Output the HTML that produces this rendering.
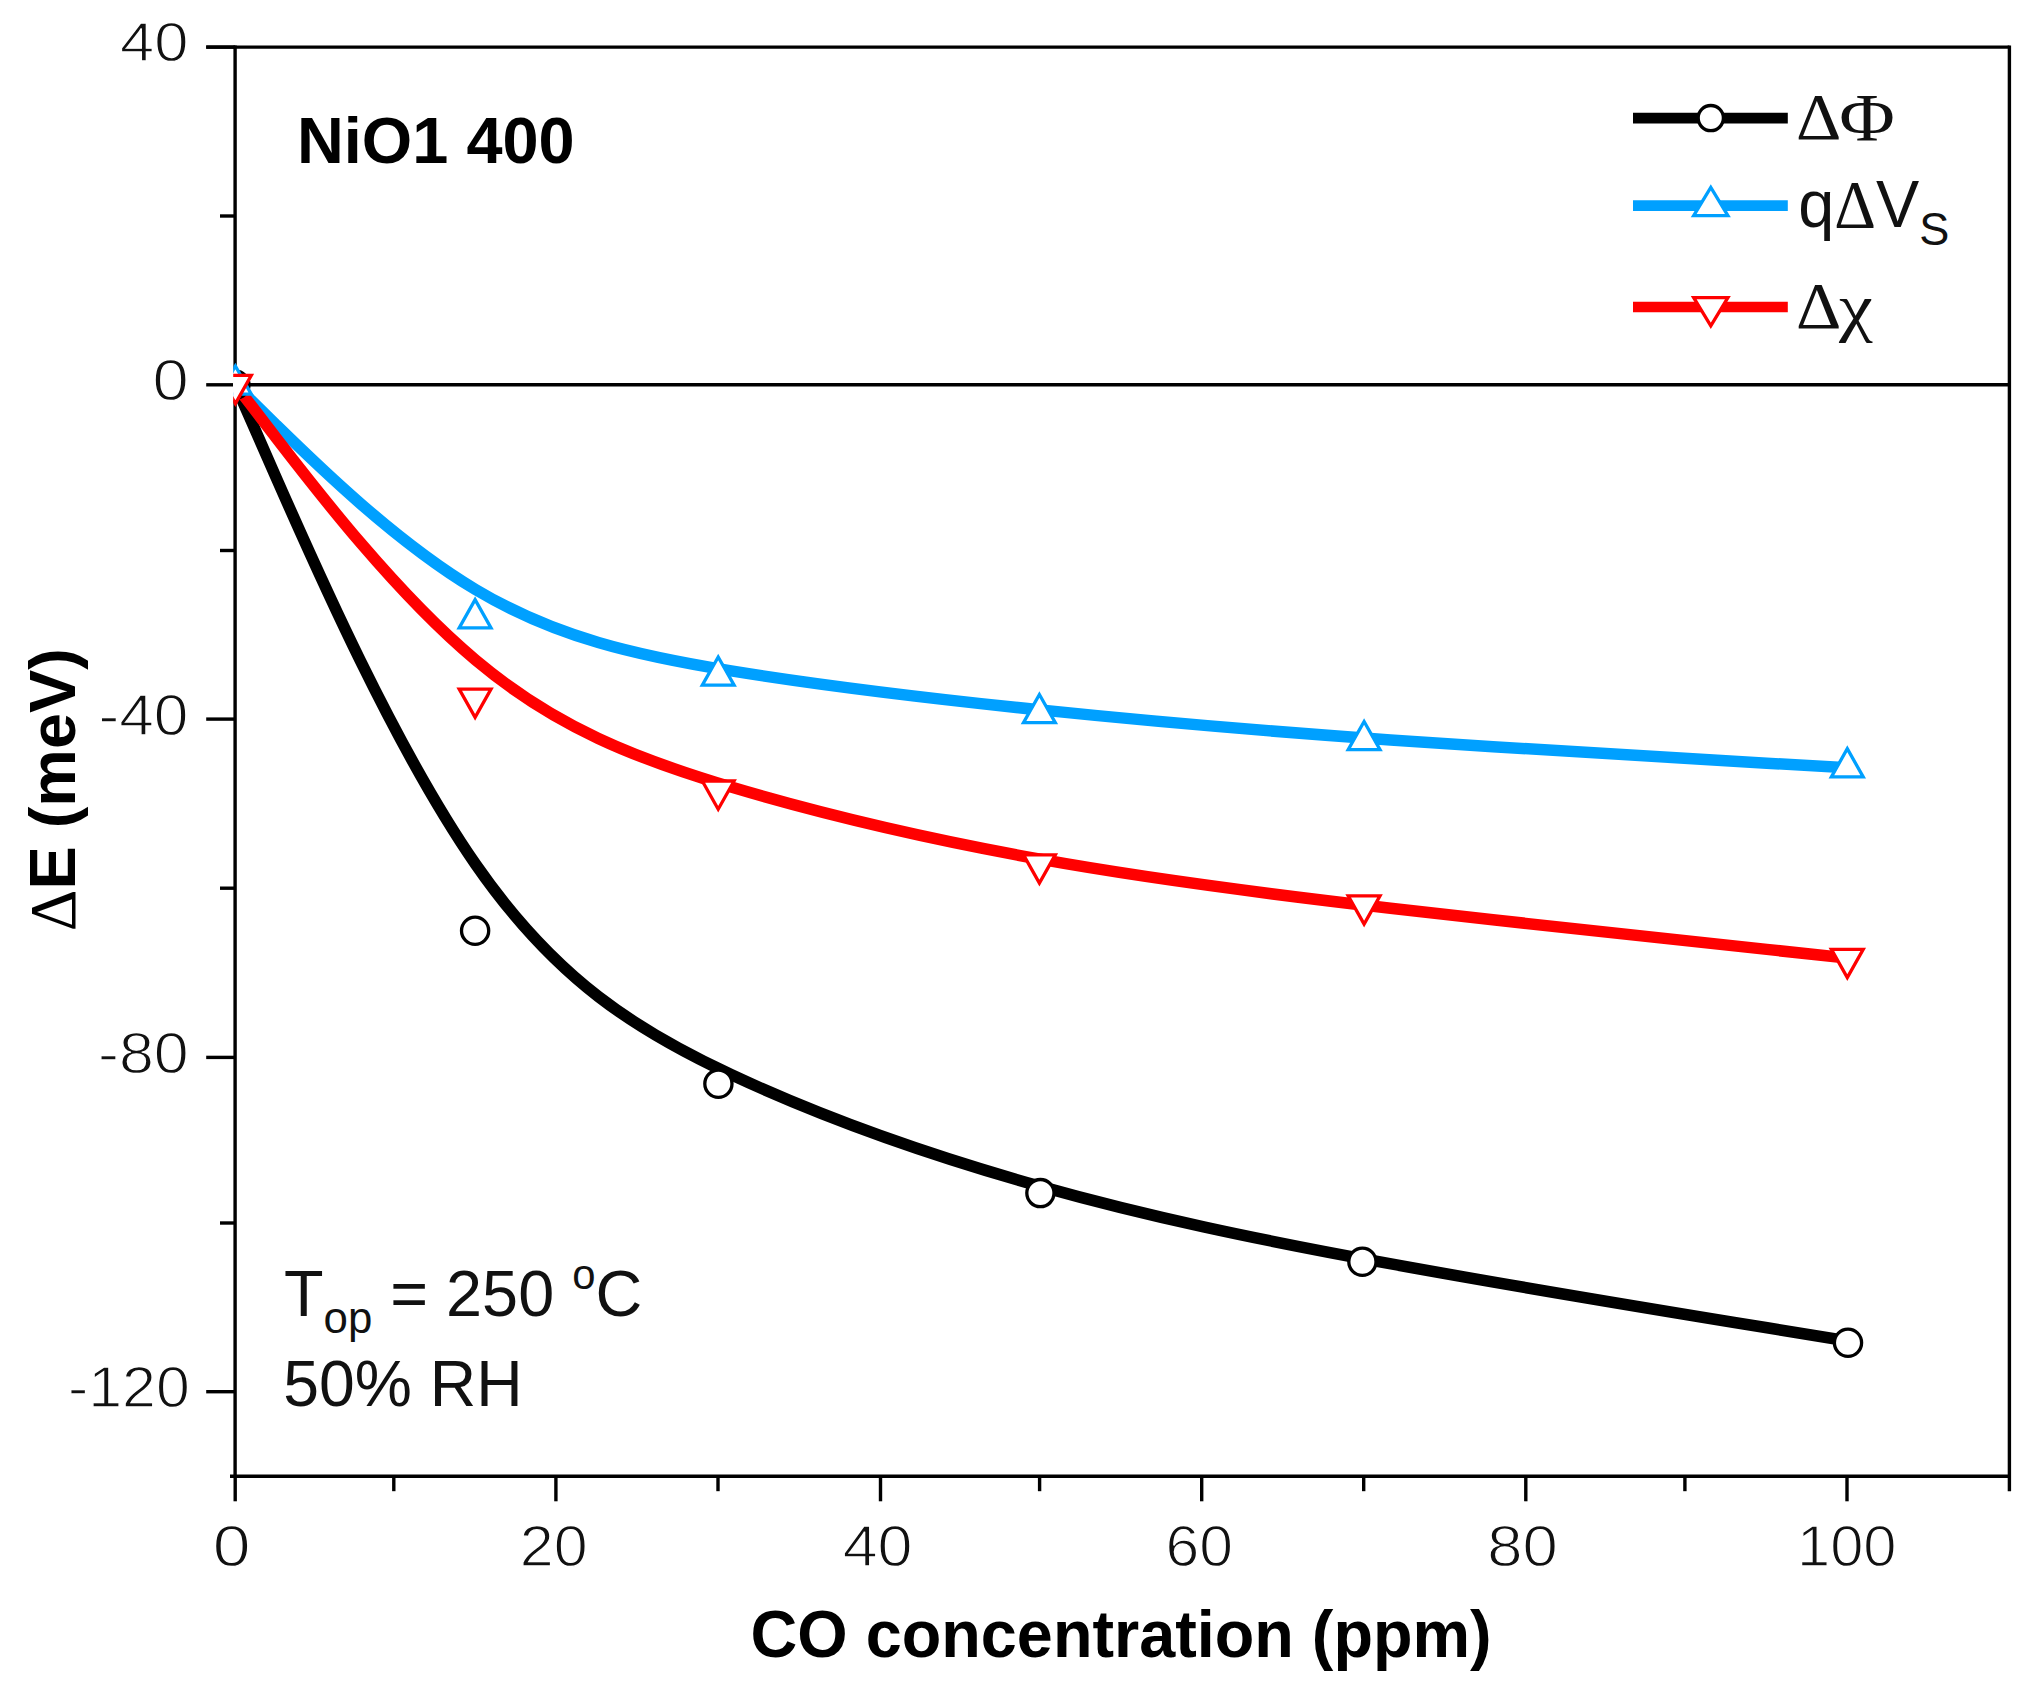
<!DOCTYPE html>
<html><head><meta charset="utf-8"><title>NiO1 400</title>
<style>
html,body{margin:0;padding:0;background:#fff;}
svg{display:block;}
text{font-family:"Liberation Sans",Arial,sans-serif;fill:#111;}
.tk{font-size:57px;stroke:#fff;stroke-width:1.3px;}
.lb{font-size:65px;}
.lg{font-size:66px;}
.b{font-weight:bold;fill:#000;}
.sym{font-family:"Liberation Serif","DejaVu Serif",serif;}
.n{font-weight:normal;}
.s44{font-size:44px;}
.s42{font-size:42px;}
.s46{font-size:46px;}
</style></head><body>
<svg width="2030" height="1689" viewBox="0 0 2030 1689">
<rect width="2030" height="1689" fill="#fff"/>
<defs><clipPath id="cp"><rect x="233.2" y="47.1" width="1777.9" height="1429.1"/></clipPath></defs>
<g stroke="#000" stroke-width="3.4" fill="none">
<line x1="235.1" y1="45.4" x2="235.1" y2="1476.2"/>
<line x1="2009.4" y1="45.4" x2="2009.4" y2="1491.2"/>
<line x1="206.2" y1="47.1" x2="2009.4" y2="47.1"/>
<line x1="230" y1="1476.2" x2="2009.4" y2="1476.2"/>
<line x1="235.1" y1="384.8" x2="2009.4" y2="384.8"/>
<line x1="206.2" y1="47.1" x2="235.1" y2="47.1"/>
<line x1="220" y1="216" x2="235.1" y2="216"/>
<line x1="206.2" y1="384.8" x2="235.1" y2="384.8"/>
<line x1="220" y1="550.5" x2="235.1" y2="550.5"/>
<line x1="206.2" y1="719.1" x2="235.1" y2="719.1"/>
<line x1="220" y1="888.2" x2="235.1" y2="888.2"/>
<line x1="206.2" y1="1057.4" x2="235.1" y2="1057.4"/>
<line x1="220" y1="1223" x2="235.1" y2="1223"/>
<line x1="206.2" y1="1391.7" x2="235.1" y2="1391.7"/>
<line x1="235.2" y1="1476.2" x2="235.2" y2="1501.3"/>
<line x1="393.8" y1="1476.2" x2="393.8" y2="1491.2"/>
<line x1="555.9" y1="1476.2" x2="555.9" y2="1501.3"/>
<line x1="718" y1="1476.2" x2="718" y2="1491.2"/>
<line x1="880.5" y1="1476.2" x2="880.5" y2="1501.3"/>
<line x1="1039.6" y1="1476.2" x2="1039.6" y2="1491.2"/>
<line x1="1201.7" y1="1476.2" x2="1201.7" y2="1501.3"/>
<line x1="1363.7" y1="1476.2" x2="1363.7" y2="1491.2"/>
<line x1="1525.8" y1="1476.2" x2="1525.8" y2="1501.3"/>
<line x1="1684.9" y1="1476.2" x2="1684.9" y2="1491.2"/>
<line x1="1847" y1="1476.2" x2="1847" y2="1501.3"/>
</g>
<g clip-path="url(#cp)">
<g fill="none" stroke-width="11.5">
<path stroke="#000" d="M235.4 384.8 C235.4 384.8 235.4 384.8 275.3 475.7 C315.3 566.6 395.2 748.3 475.7 864.4 C556.2 980.5 637.3 1030.8 731.5 1074.8 C825.7 1118.8 933.1 1156.3 1040.4 1186.4 C1147.7 1216.5 1255.1 1239.2 1389.7 1263.7 C1524.3 1288.2 1686.1 1314.6 1767.1 1327.8 C1848.0 1341.0 1848.0 1341.0 1848.0 1341.0"/>
<path stroke="#00a0ff" d="M235.4 384.8 C235.4 384.8 235.4 384.8 275.3 424.0 C315.3 463.1 395.2 541.5 475.7 589.6 C556.1 637.7 637.2 655.6 731.2 670.9 C825.3 686.1 932.3 698.8 1040.0 709.9 C1147.6 721.0 1255.9 730.5 1390.5 739.9 C1525.2 749.3 1686.2 758.6 1766.8 763.2 C1847.3 767.8 1847.3 767.8 1847.3 767.8"/>
<path stroke="#ff0000" d="M235.4 384.8 C235.4 384.8 235.4 384.8 275.3 436.8 C315.3 488.7 395.2 592.6 475.7 660.2 C556.1 727.8 637.2 759.0 731.2 787.1 C825.3 815.1 932.3 839.8 1040.0 859.2 C1147.6 878.6 1255.9 892.7 1390.5 908.2 C1525.2 923.8 1686.2 940.9 1766.8 949.4 C1847.3 958.0 1847.3 958.0 1847.3 958.0"/>
</g>
<g fill="#fff" stroke-width="3.3" stroke-linejoin="miter">
<circle cx="235.4" cy="384.8" r="13.6" stroke="#000"/>
<circle cx="475.1" cy="930.8" r="13.6" stroke="#000"/>
<circle cx="718.4" cy="1083.8" r="13.6" stroke="#000"/>
<circle cx="1040.4" cy="1193.1" r="13.6" stroke="#000"/>
<circle cx="1362.4" cy="1261.8" r="13.6" stroke="#000"/>
<circle cx="1848" cy="1342.8" r="13.6" stroke="#000"/>
<path stroke="#00a0ff" d="M219.5 394.2 L251.3 394.2 L235.4 366.0 Z"/>
<path stroke="#00a0ff" d="M459.2 627.9 L491.0 627.9 L475.1 599.7 Z"/>
<path stroke="#00a0ff" d="M702.3 685.2 L734.1 685.2 L718.2 657.0 Z"/>
<path stroke="#00a0ff" d="M1023.5 722.7 L1055.3 722.7 L1039.4 694.5 Z"/>
<path stroke="#00a0ff" d="M1348.2 749.7 L1380.0 749.7 L1364.1 721.5 Z"/>
<path stroke="#00a0ff" d="M1831.4 776.9 L1863.2 776.9 L1847.3 748.7 Z"/>
<path stroke="#ff0000" d="M219.5 375.4 L251.3 375.4 L235.4 403.6 Z"/>
<path stroke="#ff0000" d="M459.2 689.1 L491.0 689.1 L475.1 717.3 Z"/>
<path stroke="#ff0000" d="M702.3 781.0 L734.1 781.0 L718.2 809.2 Z"/>
<path stroke="#ff0000" d="M1023.5 854.9 L1055.3 854.9 L1039.4 883.1 Z"/>
<path stroke="#ff0000" d="M1348.2 895.9 L1380.0 895.9 L1364.1 924.1 Z"/>
<path stroke="#ff0000" d="M1831.4 949.4 L1863.2 949.4 L1847.3 977.6 Z"/>
</g></g>
<g stroke-width="10.6" fill="none">
<line x1="1633" y1="118.1" x2="1787.8" y2="118.1" stroke="#000"/>
<line x1="1633" y1="205.6" x2="1787.8" y2="205.6" stroke="#00a0ff"/>
<line x1="1633" y1="307" x2="1787.8" y2="307" stroke="#ff0000"/>
</g>
<g fill="#fff" stroke-width="3.3" stroke-linejoin="miter">
<circle cx="1710.8" cy="118.1" r="12.6" stroke="#000"/>
<path stroke="#00a0ff" d="M1693.7 215.7 L1727.9 215.7 L1710.8 187.5 Z"/>
<path stroke="#ff0000" d="M1693.7 297.6 L1727.9 297.6 L1710.8 325.8 Z"/>
</g>
<text class="tk" transform="matrix(1.0780 0 0 0.9875 120.04 61.40)">40</text>
<text class="tk" transform="matrix(1.1423 0 0 1.0175 152.57 399.90)">0</text>
<text class="tk" transform="matrix(1.0922 0 0 1.0075 98.52 735.00)">-40</text>
<text class="tk" transform="matrix(1.1000 0 0 1.0225 98.10 1072.90)">-80</text>
<text class="tk" transform="matrix(1.0676 0 0 1.0150 68.00 1407.00)">-120</text>
<text class="tk" transform="matrix(1.1923 0 0 1.0200 212.72 1565.70)">0</text>
<text class="tk" transform="matrix(1.0702 0 0 1.0200 519.72 1565.70)">20</text>
<text class="tk" transform="matrix(1.1017 0 0 1.0200 842.70 1565.70)">40</text>
<text class="tk" transform="matrix(1.0649 0 0 1.0200 1165.54 1565.70)">60</text>
<text class="tk" transform="matrix(1.1138 0 0 1.0200 1487.26 1565.70)">80</text>
<text class="tk" transform="matrix(1.0471 0 0 1.0200 1796.96 1565.70)">100</text>
<text class="lb b" transform="matrix(0.9978 0 0 0.9958 297.01 162.80)">NiO1 400</text>
<text class="lb b" transform="matrix(0.9965 0 0 1.0117 750.61 1657.25)">CO concentration (ppm)</text>
<text class="lb b" transform="matrix(0 -0.9975 1.0067 0 74.51 931.19)"><tspan class="sym n">Δ</tspan>E (meV)</text>
<text class="lb" transform="matrix(0.9963 0 0 1.0053 284.00 1315.86)">T<tspan dy="17" class="s44">op</tspan><tspan dy="-17"> = 250 </tspan><tspan dy="-27" class="s42">o</tspan><tspan dy="27">C</tspan></text>
<text class="lb" transform="matrix(0.9893 0 0 1.0064 283.23 1406.19)">50% RH</text>
<text class="lg sym" transform="matrix(1.0684 0 0 0.9886 1796.06 138.81)">Δ</text>
<text class="lg sym" transform="matrix(1.1523 0 0 1.0116 1839.30 139.80)">Φ</text>
<text class="lg" transform="matrix(0.9819 0 0 1.0206 1798.25 227.45)">q<tspan class="sym">Δ</tspan>V<tspan dy="17" class="s46">S</tspan></text>
<text class="lg sym" transform="matrix(1.0684 0 0 0.9909 1796.06 328.01)">Δ</text>
<text class="lg sym" transform="matrix(1.1552 0 0 0.9955 1839.10 328.86)">χ</text>
</svg></body></html>
